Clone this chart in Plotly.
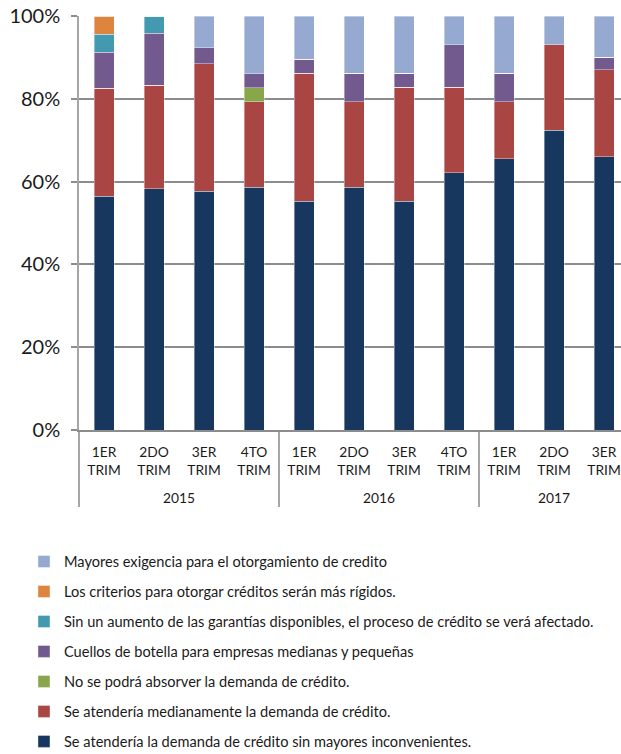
import plotly.graph_objects as go

# Quarterly survey responses (% of respondents), stacked to 100%
years = ["2015"] * 4 + ["2016"] * 4 + ["2017"] * 3
quarters = ["1ER<br>TRIM<br>&nbsp;", "2DO<br>TRIM<br>&nbsp;", "3ER<br>TRIM<br>&nbsp;", "4TO<br>TRIM<br>&nbsp;",
            "1ER<br>TRIM<br>&nbsp;", "2DO<br>TRIM<br>&nbsp;", "3ER<br>TRIM<br>&nbsp;", "4TO<br>TRIM<br>&nbsp;",
            "1ER<br>TRIM<br>&nbsp;", "2DO<br>TRIM<br>&nbsp;", "3ER<br>TRIM<br>&nbsp;"]

sin_inconvenientes = [56.5, 58.3, 57.7, 58.6, 55.2, 58.6, 55.2, 62.1, 65.5, 72.4, 66.0]
medianamente = [26.1, 25.0, 30.8, 20.7, 31.0, 20.7, 27.6, 20.7, 13.8, 20.7, 21.0]
no_absorber = [0, 0, 0, 3.4, 0, 0, 0, 0, 0, 0, 0]
cuellos_botella = [8.7, 12.5, 3.8, 3.4, 3.4, 6.9, 3.4, 10.3, 6.9, 0, 3.0]
sin_garantias = [4.3, 4.2, 0, 0, 0, 0, 0, 0, 0, 0, 0]
criterios_rigidos = [4.4, 0, 0, 0, 0, 0, 0, 0, 0, 0, 0]
mayores_exigencias = [0, 0, 7.7, 13.9, 10.4, 13.8, 13.8, 6.9, 13.8, 6.9, 10.0]

series = [
    ("Se atendería la demanda de crédito sin mayores inconvenientes.", sin_inconvenientes, "#17375E"),
    ("Se atendería medianamente la demanda de crédito.", medianamente, "#A94543"),
    ("No se podrá absorver la demanda de crédito.", no_absorber, "#8AA64A"),
    ("Cuellos de botella para empresas medianas y pequeñas", cuellos_botella, "#725A8F"),
    ("Sin un aumento de las garantías disponibles, el proceso de crédito se verá afectado.", sin_garantias, "#4299B0"),
    ("Los criterios para otorgar créditos serán más rígidos.", criterios_rigidos, "#DD853E"),
    ("Mayores exigencia para el otorgamiento de credito", mayores_exigencias, "#95A9D1"),
]

FONT = "Lato, 'Open Sans', sans-serif"

fig = go.Figure()
for i, (name, vals, color) in enumerate(series):
    fig.add_trace(go.Bar(
        name=name,
        x=[years, quarters],
        y=vals,
        marker=dict(color=color, line=dict(color="rgba(255,255,255,0.55)", width=0.7)),
        legendgroup=f"g{i}",
        legendrank=len(series) - i,  # top series listed first
        hoverinfo="name+y",
    ))

fig.update_layout(
    width=621,
    height=754,
    barmode="stack",
    bargap=0.6,
    paper_bgcolor="white",
    plot_bgcolor="white",
    font=dict(family=FONT, color="#1a1a1a"),
    margin=dict(l=79, r=0, t=16, b=324, autoexpand=False),
    showlegend=True,
    legend=dict(
        traceorder="grouped",
        tracegroupgap=8,
        orientation="v",
        x=-0.1015,
        xanchor="left",
        y=-0.279,
        yanchor="top",
        font=dict(family=FONT, size=14.6, color="#1a1a1a"),
        itemwidth=30,
        bgcolor="rgba(0,0,0,0)",
    ),
    xaxis=dict(
        type="multicategory",
        range=[-0.5, 10.34],
        showline=True,
        linecolor="#8c8c8c",
        linewidth=1.5,
        showdividers=True,
        dividercolor="#a6a6a6",
        dividerwidth=1.5,
        tickfont=dict(family=FONT, size=13.8, color="#1a1a1a"),
        ticklabelstandoff=9,
        showgrid=False,
        ticks="",
        automargin=False,
    ),
    yaxis=dict(
        range=[0, 100],
        dtick=20,
        ticksuffix="%",
        showgrid=True,
        gridcolor="#8c8c8c",
        gridwidth=1.5,
        zeroline=False,
        showline=True,
        linecolor="#a6a6a6",
        linewidth=1.5,
        ticks="outside",
        ticklen=6,
        tickcolor="#8c8c8c",
        tickwidth=1.5,
        ticklabelstandoff=7,
        tickfont=dict(family=FONT, size=20, color="#1a1a1a"),
        automargin=False,
    ),
)

fig.write_html("out.html")
